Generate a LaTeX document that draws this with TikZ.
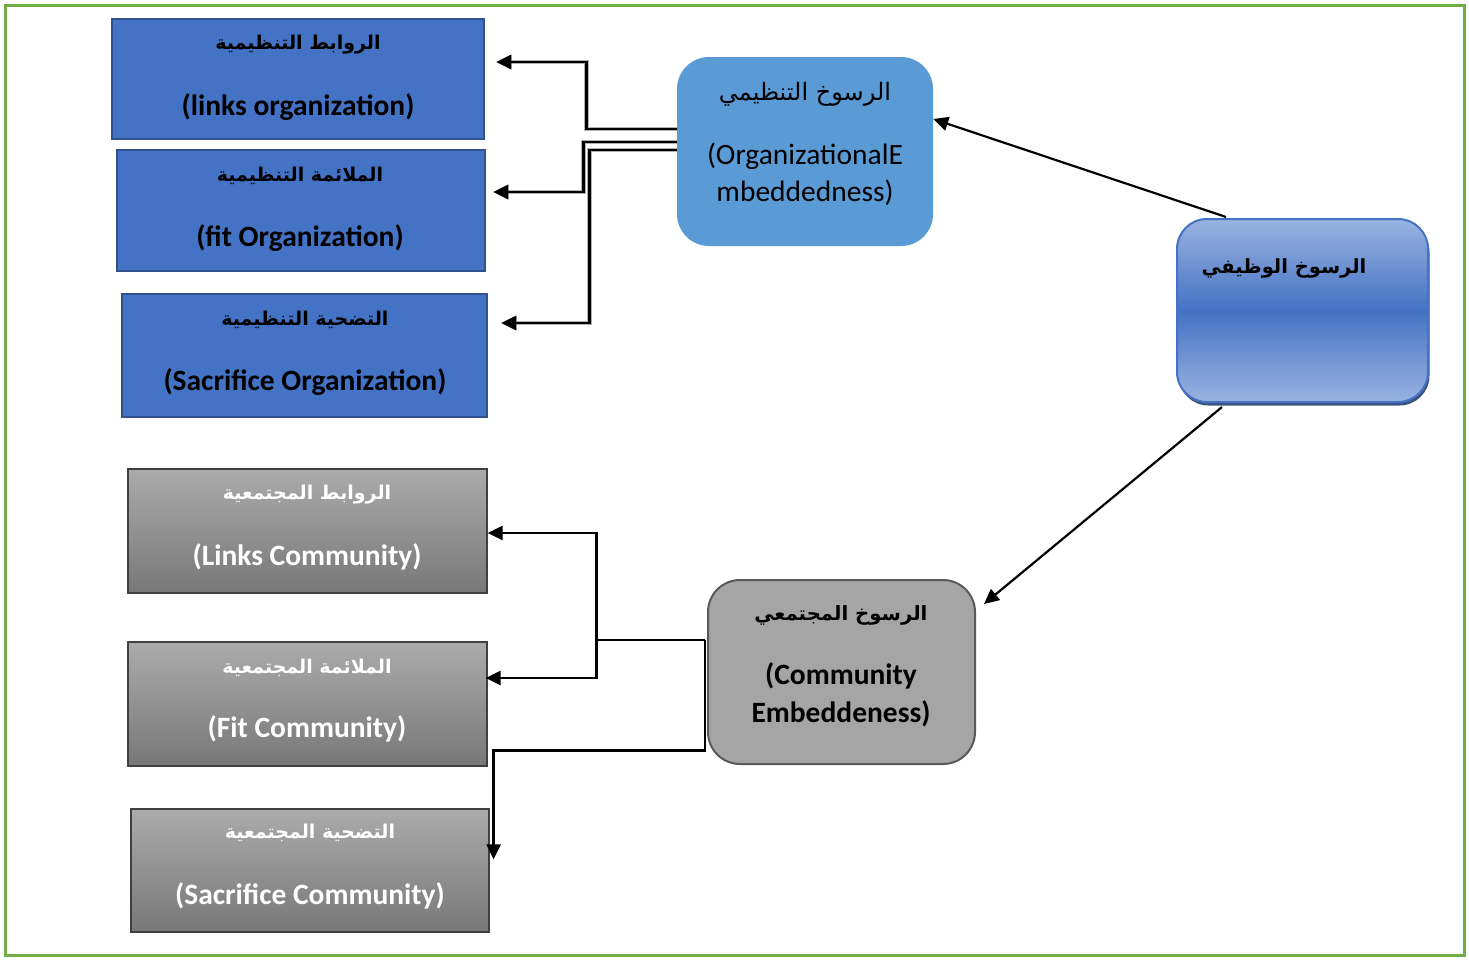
\documentclass[tikz,border=0pt]{standalone}
\usepackage{fontspec}
\setmainfont{Carlito}
\newfontfamily\arfont[Script=Arabic]{DejaVu Sans}
\TeXXeTstate=1
\usetikzlibrary{calc,arrows.meta,shadows}
\definecolor{frameG}{HTML}{70AD47}
\definecolor{blueF}{HTML}{4472C4}
\definecolor{blueD}{HTML}{2F528F}
\definecolor{orgF}{HTML}{5B9BD5}
\definecolor{rootL}{HTML}{9AB3E0}
\definecolor{comF}{HTML}{A5A5A5}
\definecolor{comD}{HTML}{5A5A5A}
\tikzset{
  bluebox/.style={draw=blueD, line width=2.5pt, fill=blueF, inner sep=0pt},
  graybox/.style={draw=black!75, line width=1.2pt, top color=black!33, bottom color=black!53, inner sep=0pt},
  artxt/.style={font=\arfont\bfseries\fontsize{19}{22}\selectfont, inner sep=0pt},
  entxt/.style={font=\bfseries\fontsize{29.5}{34}\selectfont, inner sep=0pt},
  conn/.style={line width=2.6pt, draw=black},
  halo/.style={conn, preaction={draw=black!30, line width=4.6pt}},
  tip/.style={-{Triangle[length=15pt,width=14pt]}},
}
\begin{document}
\begin{tikzpicture}[x=1pt,y=-1pt]
\useasboundingbox (0,0) rectangle (1469,961);
\fill[white] (0,0) rectangle (1469,961);
\draw[frameG, line width=3pt] (5,5) rectangle (1464,955);

% organizational branch boxes
\node[bluebox, minimum width=372pt, minimum height=120pt] (l1) at (298,79) {};
\node[bluebox, minimum width=368pt, minimum height=121pt] (l2) at (301,210.5) {};
\node[bluebox, minimum width=365pt, minimum height=123pt] (l3) at (304.5,355.5) {};
\node[artxt] (l1a) at (298,45) {\beginR الروابط التنظيمية\endR};
\node[entxt] (l1e) at (298,107) {(links organization)};
\node[artxt] (l2a) at (300,176) {\beginR الملائمة التنظيمية\endR};
\node[entxt] (l2e) at (300,238) {(fit Organization)};
\node[artxt] (l3a) at (305,320) {\beginR التضحية التنظيمية\endR};
\node[entxt] (l3e) at (305,382) {(Sacrifice Organization)};

% community branch boxes
\node[graybox, minimum width=359pt, minimum height=124pt] (c1) at (307.5,531) {};
\node[graybox, minimum width=359pt, minimum height=124pt] (c2) at (307.5,704) {};
\node[graybox, minimum width=358pt, minimum height=123pt] (c3) at (310,870.5) {};
\node[artxt, text=white] (c1a) at (307,495) {\beginR الروابط المجتمعية\endR};
\node[entxt, text=white] (c1e) at (307,557) {(Links Community)};
\node[artxt, text=white] (c2a) at (307,668) {\beginR الملائمة المجتمعية\endR};
\node[entxt, text=white] (c2e) at (307,729) {(Fit Community)};
\node[artxt, text=white] (c3a) at (310,833) {\beginR التضحية المجتمعية\endR};
\node[entxt, text=white] (c3e) at (310,896) {(Sacrifice Community)};

% organizational embeddedness
\node[fill=orgF, rounded corners=32pt, minimum width=256pt, minimum height=189pt, inner sep=0pt] (org) at (805,151.5) {};
\node[font=\arfont\fontsize{24}{27}\selectfont, inner sep=0pt] (orga) at (805,94) {\beginR الرسوخ التنظيمي\endR};
\node[font=\fontsize{29.5}{37}\selectfont, align=center, inner sep=0pt] (orge) at (805,174) {(OrganizationalE\\mbeddedness)};

% root
\node[draw=blueF, line width=2pt, rounded corners=30pt, top color=rootL, bottom color=rootL, middle color=blueF,
      minimum width=251pt, minimum height=183pt, inner sep=0pt,
      drop shadow={shadow xshift=1.5pt, shadow yshift=-3.5pt, fill=blueD!80!black, opacity=0.9}] (root) at (1302.5,310.5) {};
\node[font=\arfont\bfseries\fontsize{19.5}{23}\selectfont, inner sep=0pt] (roota) at (1284,268) {\beginR الرسوخ الوظيفي\endR};

% community embeddedness
\node[draw=comD, line width=2pt, fill=comF, rounded corners=32pt, minimum width=267pt, minimum height=184pt, inner sep=0pt] (com) at (841.5,672) {};
\node[font=\arfont\bfseries\fontsize{19.7}{23}\selectfont, inner sep=0pt] (coma) at (841,615) {\beginR الرسوخ المجتمعي\endR};
\node[font=\bfseries\fontsize{29.5}{38}\selectfont, align=center, inner sep=0pt] (come) at (841,695) {(Community\\Embeddeness)};

% root arrows
\draw[line width=2.2pt, tip] ($(root.north)+(-76.5,-1)$) -- ($(org.east)+(0,-32.5)$);
\draw[line width=2.2pt, tip] ($(root.south)+(-80.5,4)$) -- ($(com.east)+(8,-68)$);

% organizational connectors
\draw[halo, tip] ($(org.west)+(0,-22.5)$) -| ($(l1.east)+(101,-17)$) -- ($(l1.east)+(11,-17)$);
\draw[halo, tip] ($(org.west)+(0,-9.5)$) -| ($(l2.east)+(97,-18.5)$) -- ($(l2.east)+(7,-18.5)$);
\draw[halo, tip] ($(org.west)+(0,-1.5)$) -| ($(l3.east)+(101,-32.5)$) -- ($(l3.east)+(13,-32.5)$);

% community connectors
\coordinate (cj) at ($(com.west)+(-2,-32)$);
\coordinate (cm) at ($(c1.east)+(109,109)$);
\draw[conn, tip] (cj) -- (cm) |- ($(c1.east)+(0,2)$);
\draw[conn, tip] (cm) |- ($(c2.east)+(-2,-26)$);
\draw[conn, tip] (cj) |- ($(c3.north east)+(4,-58)$) -- ($(c3.north east)+(4,51)$);
\end{tikzpicture}
\end{document}
